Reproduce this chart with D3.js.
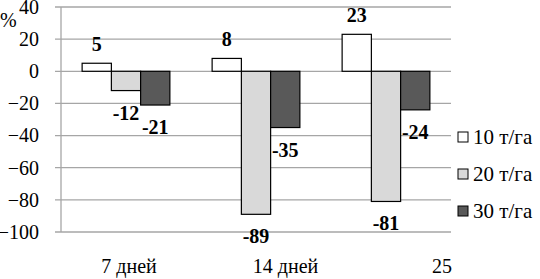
<!DOCTYPE html>
<html>
<head>
<meta charset="utf-8">
<script src="https://cdn.jsdelivr.net/npm/d3@7"></script>
<style>
  body { margin: 0; background: #fff; }
</style>
</head>
<body>
<svg id="chart" width="540" height="279"></svg>
<script>
var categories = ['7 дней', '14 дней', '25'];
var seriesNames = ['10 т/га', '20 т/га', '30 т/га'];
var series10 = [5, 8, 23];
var series20 = [-12, -89, -81];
var series30 = [-21, -35, -24];
var yTicks = [40, 20, 0, -20, -40, -60, -80, -100];

var colorTable = ['#ffffff', '#d9d9d9', '#595959'];
var FONT = 'Liberation Serif';

var LEFT = 61, RIGHT = 451, TOP = 7, BOTTOM = 232;

var svg = d3.select('#chart');

var values = [series10, series20, series30];
var rows = categories.map(function (c, i) {
  return { cat: c, vals: values.map(function (s) { return s[i]; }) };
});

var y = d3.scaleLinear().domain([-100, 40]).range([BOTTOM, TOP]);
var x0 = d3.scaleBand().domain(categories).range([LEFT, RIGHT])
    .paddingInner(0.325).paddingOuter(0.1625);
var x1 = d3.scaleBand().domain(d3.range(seriesNames.length)).range([0, x0.bandwidth()]);

// grid lines
svg.append('g').selectAll('line')
    .data(yTicks)
    .enter().append('line')
    .attr('x1', LEFT - 6).attr('x2', RIGHT)
    .attr('y1', function (d) { return y(d); })
    .attr('y2', function (d) { return y(d); })
    .style('stroke', '#a6a6a6')
    .style('stroke-width', 1.3);

// vertical axis line
svg.append('line')
    .attr('x1', LEFT).attr('x2', LEFT)
    .attr('y1', y(40)).attr('y2', y(-100))
    .style('stroke', '#a6a6a6')
    .style('stroke-width', 1.3);

// y tick labels
var yAxis = svg.append('g')
    .attr('transform', 'translate(' + LEFT + ',0)')
    .call(d3.axisLeft(y).tickValues(yTicks).tickSize(0).tickPadding(22));
yAxis.attr('font-family', FONT).attr('font-size', 20);
yAxis.select('.domain').remove();
yAxis.selectAll('text')
    .style('font-family', FONT)
    .style('font-size', '20px')
    .style('fill', '#000');

svg.append('text')
    .attr('x', 0).attr('y', 27)
    .style('font-family', FONT)
    .style('font-size', '20px')
    .text('%');

// bars
var group = svg.selectAll('.grp')
    .data(rows)
    .enter().append('g')
    .attr('class', 'grp')
    .attr('transform', function (d) { return 'translate(' + x0(d.cat) + ',0)'; });

group.selectAll('rect')
    .data(function (d) { return d.vals; })
    .enter().append('rect')
    .attr('x', function (d, i) { return x1(i); })
    .attr('y', function (d) { return y(Math.max(d, 0)); })
    .attr('width', x1.bandwidth())
    .attr('height', function (d) { return Math.abs(y(d) - y(0)); })
    .style('fill', function (d, i) { return colorTable[i]; })
    .style('stroke', '#000')
    .style('stroke-width', 1.2);

group.selectAll('.val')
    .data(function (d) { return d.vals; })
    .enter().append('text')
    .attr('class', 'val')
    .attr('x', function (d, i) { return x1(i) + x1.bandwidth() / 2; })
    .attr('y', function (d) { return d >= 0 ? y(d) - 12 : y(d) + 29; })
    .attr('text-anchor', 'middle')
    .style('font-family', FONT)
    .style('font-size', '20px')
    .style('font-weight', 'bold')
    .text(function (d) { return d; });

// category labels
var xl = d3.scaleLinear().domain([0, categories.length - 1]).range([129, 442]);
svg.selectAll('.cat')
    .data(categories)
    .enter().append('text')
    .attr('class', 'cat')
    .attr('x', function (d, i) { return xl(i); })
    .attr('y', 273)
    .attr('text-anchor', 'middle')
    .style('font-family', FONT)
    .style('font-size', '20px')
    .text(function (d) { return d; });

// legend
var legend = svg.selectAll('.leg')
    .data(seriesNames)
    .enter().append('g')
    .attr('class', 'leg')
    .attr('transform', function (d, i) { return 'translate(458,' + (137 + i * 37) + ')'; });

legend.append('rect')
    .attr('x', 0).attr('y', -5)
    .attr('width', 10).attr('height', 10)
    .style('fill', function (d, i) { return colorTable[i]; })
    .style('stroke', '#000')
    .style('stroke-width', 1);

legend.append('text')
    .attr('x', 15).attr('y', 7)
    .style('font-family', FONT)
    .style('font-size', '21px')
    .text(function (d) { return d; });
</script>
</body>
</html>
